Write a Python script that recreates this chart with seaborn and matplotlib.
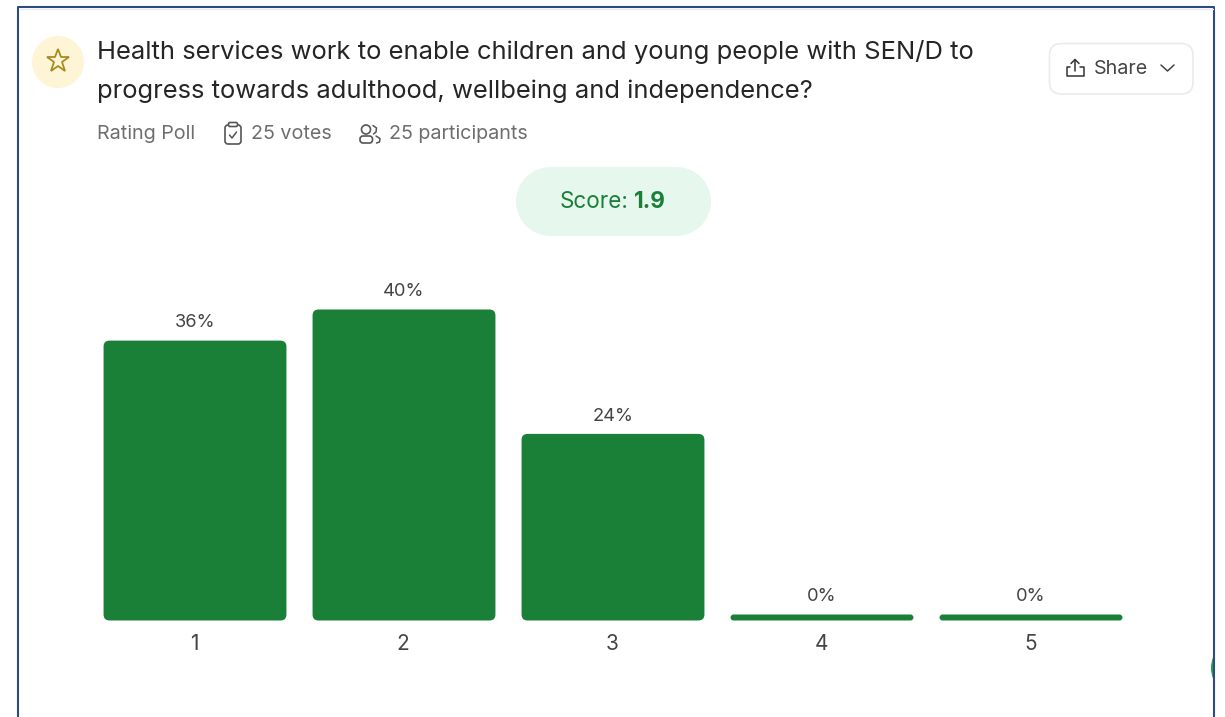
import matplotlib
matplotlib.use("Agg")
import matplotlib.pyplot as plt
from matplotlib.transforms import ScaledTranslation
import seaborn as sns
import pandas as pd
from matplotlib.patches import FancyBboxPatch, Circle, Rectangle

ratings = ["1", "2", "3", "4", "5"]
percent = [36, 40, 24, 0, 0]
bar_labels = ["36%", "40%", "24%", "0%", "0%"]
title_lines = ["Health services work to enable children and young people with SEN/D to",
               "progress towards adulthood, wellbeing and independence?"]
poll_type = "Rating Poll"
votes = "25 votes"
participants = "25 participants"
score_label = "Score:"
score_value = "1.9"
share_label = "Share"

W, H = 1225, 717
GREEN = "#1A7F37"
sns.set_theme(style="white")
plt.rcParams["font.family"] = ["Inter", "DejaVu Sans"]

fig = plt.figure(figsize=(W / 100, H / 100), dpi=100, facecolor="white")

# page overlay in pixel coordinates
bg = fig.add_axes([0, 0, 1, 1], zorder=0)
bg.set_xlim(0, W); bg.set_ylim(H, 0); bg.axis("off")

# chart axes
x0, x1 = 90.5, 1135.5
y_zero, y_40 = 620.5, 309.5
ax = fig.add_axes([x0 / W, 1 - y_zero / H, (x1 - x0) / W, (y_zero - y_40) / H], zorder=1)
ax.patch.set_alpha(0)
df = pd.DataFrame({"rating": ratings, "percent": percent})
sns.barplot(data=df, x="rating", y="percent", color=GREEN, width=0.875, saturation=1, ax=ax)
ax.set_xlim(-0.5, 4.5); ax.set_ylim(0, 40)
ax.set_xlabel(""); ax.set_ylabel(""); ax.set_yticks([])
sns.despine(ax=ax, left=True, bottom=True)
ax.tick_params(axis="x", length=0, pad=10, labelsize=15, labelcolor="#444444")
for tick in ax.get_xticklabels():
    tick.set_transform(tick.get_transform() + ScaledTranslation(-0.8 / 100, 0, fig.dpi_scale_trans))

ppx = 1 / 209.0            # x units per pixel
ppy = 40 / (y_zero - y_40)  # y units per pixel
min_h = 6 * ppy
for patch, lab, v in zip(list(ax.patches), bar_labels, percent):
    bx, bw, bh = patch.get_x(), patch.get_width(), max(patch.get_height(), min_h)
    r_px = min(6, bh / ppy / 2)
    patch.set_visible(False)
    ax.add_patch(FancyBboxPatch((bx, 0), bw, bh,
                                boxstyle=f"round,pad=0,rounding_size={r_px * ppx}",
                                mutation_aspect=ppy / ppx, fc=GREEN, ec="none", clip_on=False))
    ax.annotate(lab, (bx + bw / 2, bh), xytext=(0, 6.7), textcoords="offset points",
                ha="center", va="bottom", fontsize=13.2, color="#444444", annotation_clip=False)

# frame
bg.add_line(plt.Line2D([18, 18, 1214, 1214], [H, 6.5, 6.5, H], color="#2F4B85", lw=1.5))
bg.add_line(plt.Line2D([19.5, 1213], [8.5, 8.5], color="#EDEDED", lw=1))
blob = Circle((1240, 668), 29, fc="#1FA33A", ec="none")
bg.add_patch(blob)
blob.set_clip_path(Rectangle((1190, 640), 23.5, 55, transform=bg.transData))

# star badge
bg.add_patch(Circle((58, 62), 26, fc="#FDF5D6", ec="none"))
bg.plot([58], [61], marker="*", ms=17, mfc="none", mec="#A98B1F", mew=1.3, clip_on=False)

# title
for line, y in zip(title_lines, [52, 91]):
    bg.text(97, y, line, fontsize=18.42, color="#252525", va="center", ha="left")

# meta
META = "#6E6E6E"
bg.text(97, 134, poll_type, fontsize=14.2, color=META, va="center")
bg.text(251, 134, votes, fontsize=14.2, color=META, va="center")
bg.text(389, 134, participants, fontsize=14.2, color=META, va="center")

# clipboard icon
bg.add_patch(FancyBboxPatch((225, 125), 16, 19, boxstyle="round,pad=0,rounding_size=3",
                            fc="white", ec="#555555", lw=1.2))
bg.add_patch(FancyBboxPatch((228.5, 122.5), 9, 4, boxstyle="round,pad=0,rounding_size=1.5",
                            fc="white", ec="#555555", lw=1.2))
bg.plot([229.5, 232, 236.5], [135, 138, 132], color="#555555", lw=1.1)

# people icon
bg.add_patch(Circle((366, 129.5), 4.5, fc="none", ec="#555555", lw=1.2))
bg.add_patch(FancyBboxPatch((360, 136), 12.5, 7, boxstyle="round,pad=0,rounding_size=3",
                            fc="none", ec="#555555", lw=1.2))
bg.plot([373, 376.5, 376, 373.5], [125.5, 128, 132, 134], color="#555555", lw=1.1)
bg.plot([376, 380, 379.5, 376.5], [136, 138.5, 142, 143], color="#555555", lw=1.1)

# score pill
PILL = "#E6F7ED"
bg.add_patch(Rectangle((550.5, 167), 126, 69, fc=PILL, ec="none"))
bg.add_patch(Circle((550.5, 201.5), 34.5, fc=PILL, ec="none"))
bg.add_patch(Circle((676.5, 201.5), 34.5, fc=PILL, ec="none"))
bg.text(628.5, 202, score_label, fontsize=16.2, color=GREEN, va="center", ha="right")
bg.text(634, 202, score_value, fontsize=16.2, color=GREEN, va="center", ha="left", fontweight="bold")

# share button
bg.add_patch(FancyBboxPatch((1049.5, 43.5), 143.5, 50.5, boxstyle="round,pad=0,rounding_size=12",
                            fc="white", ec="#EBEBEB", lw=1.2))
ICON = "#333333"
bg.plot([1070, 1066.5, 1066.5, 1083.5, 1083.5, 1080], [67, 67, 76, 76, 67, 67], color=ICON, lw=1.1)
bg.plot([1075, 1075], [60, 71], color=ICON, lw=1.1)
bg.plot([1071, 1075, 1079], [63.5, 59.5, 63.5], color=ICON, lw=1.1)
bg.text(1094, 69.5, share_label, fontsize=14.2, color="#444444", va="center", ha="left")
bg.plot([1161, 1167.5, 1174], [65, 71, 65], color="#444444", lw=1.1)

fig.savefig("out.png", dpi=100, facecolor="white")
